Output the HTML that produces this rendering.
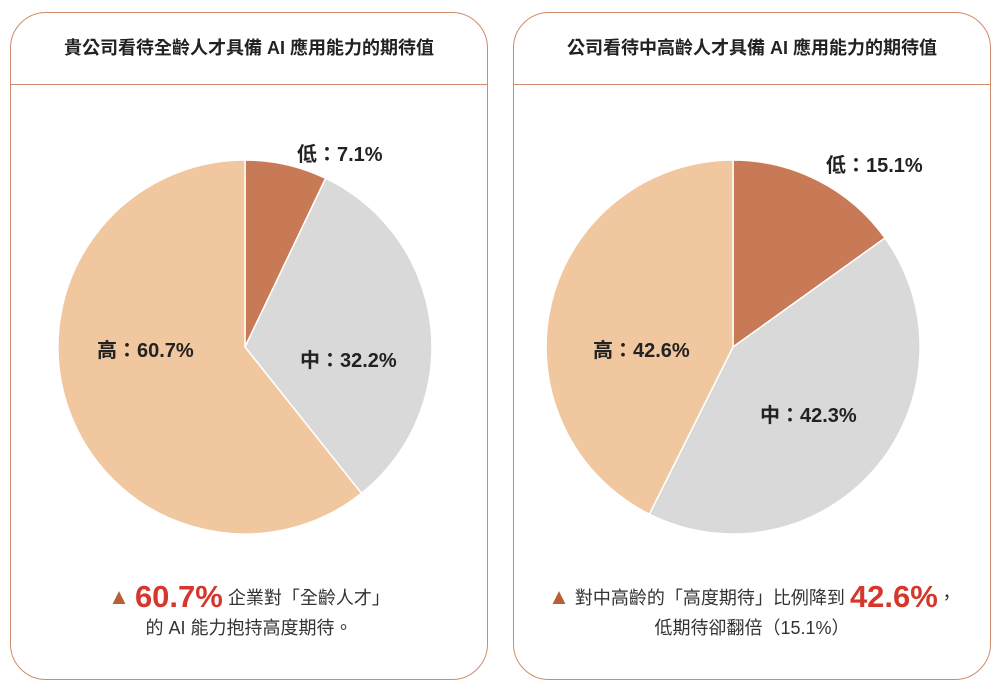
<!DOCTYPE html>
<html><head><meta charset="utf-8"><style>
body{margin:0;width:1006px;height:694px;background:#fff;font-family:"Liberation Sans","Noto Sans CJK TC",sans-serif;position:relative;overflow:hidden}
.card{position:absolute;top:12px;width:478px;height:668px;border:1.5px solid #d08b6c;border-radius:36px;box-sizing:border-box}
.hd{position:absolute;left:0;right:0;top:0;height:71px;border-bottom:1.5px solid #d08b6c;text-align:center;line-height:71px;font-weight:bold;font-size:18px;color:#222}
.lbl{position:absolute;font-weight:bold;font-size:20px;color:#222;white-space:nowrap}
.bt{position:absolute;text-align:center;font-size:18px;color:#333;white-space:nowrap;line-height:30px}
.big{color:#d5372c;font-weight:bold;font-size:31px;vertical-align:-3px}
.tri{color:#b85f35;font-size:22px}
</style></head><body>
<div class="card" style="left:10px"><div class="hd">貴公司看待全齡人才具備 AI 應用能力的期待值</div></div>
<div class="card" style="left:513px"><div class="hd">公司看待中高齡人才具備 AI 應用能力的期待值</div></div>
<svg width="1006" height="694" style="position:absolute;left:0;top:0">
<g stroke="#fff" stroke-width="1.5">
<path d="M245,347 L245,160 A187,187 0 0 1 325.7,178.3 Z" fill="#c87a56"/>
<path d="M245,347 L325.7,178.3 A187,187 0 0 1 361.4,493.3 Z" fill="#d9d9d9"/>
<path d="M245,347 L361.4,493.3 A187,187 0 1 1 245,160 Z" fill="#f0c79e"/>
<path d="M733,347 L733,160 A187,187 0 0 1 885,238 Z" fill="#c87a56"/>
<path d="M733,347 L885,238 A187,187 0 0 1 649.3,514.2 Z" fill="#d9d9d9"/>
<path d="M733,347 L649.3,514.2 A187,187 0 0 1 733,160 Z" fill="#f0c79e"/>
</g></svg>
<div class="lbl" style="left:297px;top:138px">低：7.1%</div>
<div class="lbl" style="left:300px;top:344px">中：32.2%</div>
<div class="lbl" style="left:97px;top:334px">高：60.7%</div>
<div class="lbl" style="left:826px;top:149px">低：15.1%</div>
<div class="lbl" style="left:760px;top:399px">中：42.3%</div>
<div class="lbl" style="left:593px;top:334px">高：42.6%</div>
<div class="bt" style="left:10px;width:478px;top:582px"><span class="tri">▲</span> <span class="big">60.7%</span> 企業對「全齡人才」<br>的 AI 能力抱持高度期待。</div>
<div class="bt" style="left:513px;width:478px;top:582px"><span class="tri">▲</span> 對中高齡的「高度期待」比例降到 <span class="big">42.6%</span>，<br>低期待卻翻倍（15.1%）</div>
</body></html>
